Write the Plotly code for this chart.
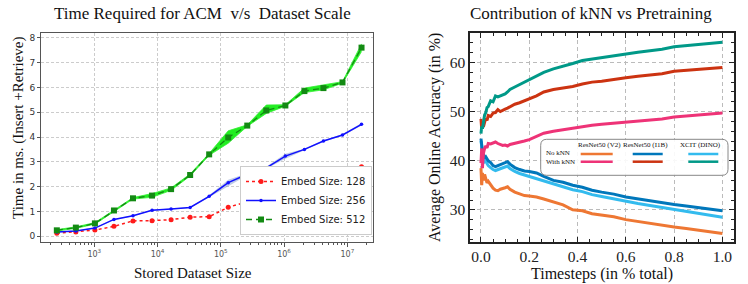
import plotly.graph_objects as go

# ---------------- Left chart data ----------------
dataset_size = [2 ** k for k in range(8, 25)]
embed128 = [0.12, 0.17, 0.25, 0.40, 0.62, 0.63, 0.67, 0.77, 0.79, 1.17, 1.39, 1.65, 1.87, 2.12, 2.20, 2.61, 2.80]
embed256 = [0.17, 0.21, 0.33, 0.68, 0.83, 1.05, 1.10, 1.16, 1.61, 2.16, 2.50, 2.76, 3.23, 3.50, 3.84, 4.08, 4.51]
embed256_lo = [0.15, 0.19, 0.31, 0.66, 0.81, 1.03, 1.08, 1.14, 1.57, 2.03, 2.46, 2.72, 3.12, 3.47, 3.81, 4.05, 4.46]
embed256_hi = [0.19, 0.23, 0.35, 0.70, 0.85, 1.07, 1.12, 1.18, 1.65, 2.28, 2.54, 2.80, 3.33, 3.53, 3.87, 4.11, 4.56]
embed512 = [0.24, 0.35, 0.52, 1.04, 1.53, 1.64, 1.90, 2.47, 3.30, 3.98, 4.46, 5.07, 5.27, 5.85, 5.97, 6.20, 7.60]
embed512_lo = [0.21, 0.32, 0.49, 1.01, 1.50, 1.57, 1.85, 2.43, 3.26, 3.75, 4.43, 4.95, 5.24, 5.79, 5.90, 6.17, 7.44]
embed512_hi = [0.27, 0.38, 0.55, 1.07, 1.56, 1.72, 1.95, 2.51, 3.34, 4.25, 4.49, 5.29, 5.30, 5.97, 6.10, 6.23, 7.75]
left_xticks = [1e3, 1e4, 1e5, 1e6, 1e7]
left_xtick_text = ["10<sup>3</sup>", "10<sup>4</sup>", "10<sup>5</sup>", "10<sup>6</sup>", "10<sup>7</sup>"]

# ---------------- Right chart data ----------------
timesteps = [0, 0.003, 0.006, 0.01, 0.015, 0.02, 0.025, 0.03, 0.04, 0.05, 0.06, 0.07, 0.08, 0.09, 0.1,
             0.11, 0.12, 0.14, 0.16, 0.18, 0.2, 0.23, 0.26, 0.3, 0.34, 0.38, 0.42, 0.46, 0.5, 0.55,
             0.6, 0.65, 0.7, 0.75, 0.8, 0.85, 0.9, 0.95, 1.0]
xcit_knn = [45.5, 47.0, 46.5, 48.3, 49.3, 49.8, 50.8, 51.0, 52.2, 52.0, 53.2, 53.0, 53.2, 53.4, 53.6,
            54.0, 54.5, 55.0, 55.5, 56.0, 56.4, 57.2, 58.0, 58.7, 59.2, 59.8, 60.4, 60.7, 61.0, 61.5,
            61.8, 62.1, 62.4, 62.7, 63.2, 63.4, 63.6, 63.9, 64.1]
i1b_knn = [48.5, 46.5, 47.8, 46.9, 47.8, 48.6, 48.2, 49.2, 49.0, 49.7, 49.8, 50.4, 50.0, 50.3, 50.5,
           50.7, 51.0, 51.5, 51.8, 52.2, 52.5, 53.2, 54.0, 54.5, 54.8, 55.1, 55.6, 56.0, 56.2, 56.6,
           56.9, 57.2, 57.5, 57.7, 58.2, 58.4, 58.6, 58.8, 59.0]
v2_knn = [39.5, 42.5, 38.5, 41.5, 42.5, 43.0, 42.6, 43.5, 43.4, 43.6, 43.8, 43.5, 43.3, 43.1, 43.2,
          43.0, 43.3, 43.5, 43.7, 44.0, 44.3, 45.0, 45.6, 46.0, 46.3, 46.6, 47.0, 47.2, 47.4, 47.6,
          47.8, 48.0, 48.2, 48.5, 48.9, 49.1, 49.3, 49.5, 49.7]
i1b_noknn = [44.5, 43.0, 42.0, 41.2, 40.5, 40.8, 40.2, 40.0, 39.6, 39.0, 38.8, 39.0, 39.2, 39.5, 39.6,
             39.8, 39.3, 38.6, 38.2, 37.9, 37.8, 37.5, 36.8, 36.0, 35.6, 35.0, 34.6, 34.0, 33.6, 33.2,
             32.6, 32.2, 31.9, 31.5, 31.1, 30.8, 30.5, 30.1, 29.8]
xcit_noknn = [44.0, 42.5, 41.0, 40.5, 39.8, 40.0, 39.4, 39.0, 38.6, 38.2, 38.0, 38.2, 38.4, 38.6, 38.8,
              38.9, 38.4, 37.8, 37.4, 37.1, 36.9, 36.5, 36.0, 35.3, 34.8, 34.1, 33.7, 33.1, 32.7, 32.2,
              31.7, 31.3, 30.9, 30.5, 30.1, 29.7, 29.3, 28.9, 28.5]
v2_noknn = [38.5, 35.0, 37.5, 36.0, 37.2, 36.0, 35.5, 35.8, 35.0, 34.4, 34.0, 33.9, 34.2, 34.3, 34.5,
            34.7, 34.2, 33.6, 33.2, 32.9, 32.8, 32.6, 32.2, 31.6, 31.0, 30.0, 29.8, 29.2, 28.9, 28.6,
            28.0, 27.6, 27.3, 26.9, 26.5, 26.2, 25.9, 25.6, 25.2]

C_ORANGE = "#EE7733"
C_MAGENTA = "#EE3377"
C_DBLUE = "#0077BB"
C_RED = "#CC3311"
C_LBLUE = "#33BBEE"
C_TEAL = "#009988"

W, H = 748, 284
def px(x):
    return x / W
def py(y):
    return 1 - y / H

fig = go.Figure()

# Left: bands
fig.add_trace(go.Scatter(x=dataset_size, y=embed256_lo, mode="lines", line=dict(width=0),
                         showlegend=False, hoverinfo="skip", xaxis="x", yaxis="y"))
fig.add_trace(go.Scatter(x=dataset_size, y=embed256_hi, mode="lines", line=dict(width=0),
                         fill="tonexty", fillcolor="rgba(110,140,200,0.45)",
                         showlegend=False, hoverinfo="skip", xaxis="x", yaxis="y"))
fig.add_trace(go.Scatter(x=dataset_size, y=embed512_lo, mode="lines", line=dict(width=0.8, color="#33ee33"),
                         showlegend=False, hoverinfo="skip", xaxis="x", yaxis="y"))
fig.add_trace(go.Scatter(x=dataset_size, y=embed512_hi, mode="lines", line=dict(width=0.8, color="#33ee33"),
                         fill="tonexty", fillcolor="#22ee22",
                         showlegend=False, hoverinfo="skip", xaxis="x", yaxis="y"))

fig.add_trace(go.Scatter(x=dataset_size, y=embed128, mode="lines+markers", name="Embed Size: 128",
                         line=dict(color="#ff1a1a", width=1.5, dash="dot"),
                         marker=dict(symbol="circle", size=5, color="#ff1a1a"),
                         xaxis="x", yaxis="y"))
fig.add_trace(go.Scatter(x=dataset_size, y=embed256, mode="lines+markers", name="Embed Size: 256",
                         line=dict(color="#1010ff", width=1.5),
                         marker=dict(symbol="circle", size=3.5, color="#1010ff"),
                         xaxis="x", yaxis="y"))
fig.add_trace(go.Scatter(x=dataset_size, y=embed512, mode="lines+markers", name="Embed Size: 512",
                         line=dict(color="#138a13", width=1.3, dash="6px,4px"),
                         marker=dict(symbol="square", size=6, color="#138a13"),
                         xaxis="x", yaxis="y"))

# Right: curves
for ys, col in [(v2_noknn, C_ORANGE), (xcit_noknn, C_LBLUE), (i1b_noknn, C_DBLUE),
                (v2_knn, C_MAGENTA), (i1b_knn, C_RED), (xcit_knn, C_TEAL)]:
    fig.add_trace(go.Scatter(x=timesteps, y=ys, mode="lines", line=dict(color=col, width=3),
                             showlegend=False, hoverinfo="skip", xaxis="x2", yaxis="y2"))

ydom = [py(242), py(33)]

fig.update_layout(
    width=W, height=H,
    margin=dict(l=0, r=0, t=0, b=0),
    paper_bgcolor="white", plot_bgcolor="white",
    showlegend=True,
    legend=dict(x=px(372), y=py(235), xanchor="right", yanchor="bottom", traceorder="normal",
                bgcolor="white", bordercolor="#cccccc", borderwidth=1,
                font=dict(family="DejaVu Sans", size=10, color="#222222"),
                tracegroupgap=0, itemwidth=30),
    xaxis=dict(domain=[px(41), px(373)], type="log", range=[2.158, 7.406],
               tickvals=left_xticks, ticktext=left_xtick_text,
               tickfont=dict(family="DejaVu Sans", size=8, color="#555555"),
               ticks="outside", ticklen=4, tickcolor="#555555",
               showline=True, linecolor="#555555", linewidth=1, mirror=True,
               showgrid=True, gridcolor="#cccccc", griddash="3px,2px", gridwidth=1,
               minor=dict(tickvals=[m * 10 ** e for e in range(2, 8) for m in range(2, 10)],
                          ticks="outside", ticklen=2, tickcolor="#555555", showgrid=False),
               zeroline=False, anchor="y"),
    yaxis=dict(domain=ydom, range=[-0.23, 8.19], dtick=1, tick0=0,
               tickfont=dict(family="DejaVu Sans", size=9, color="#333333"),
               ticks="outside", ticklen=3, tickcolor="#555555",
               showline=True, linecolor="#555555", linewidth=1, mirror=True,
               showgrid=True, gridcolor="#cccccc", griddash="3px,2px", gridwidth=1,
               zeroline=False, anchor="x"),
    xaxis2=dict(domain=[px(470), px(734)], range=[-0.0455, 1.048], dtick=0.2, tick0=0,
                tickformat=".1f",
                tickfont=dict(family="Liberation Serif", size=15.5, color="#222222"),
                ticks="inside", ticklen=5, tickcolor="#222222",
                showline=True, linecolor="#222222", linewidth=1.5, mirror="allticks",
                showgrid=True, gridcolor="#bbbbbb", griddash="4px,3px", gridwidth=1,
                minor=dict(dtick=0.05, tick0=0, ticks="inside", ticklen=3, tickcolor="#222222", showgrid=False),
                zeroline=False, anchor="y2"),
    yaxis2=dict(domain=ydom, range=[23.45, 66.0], dtick=10, tick0=0,
                tickfont=dict(family="Liberation Serif", size=15.5, color="#222222"),
                ticks="inside", ticklen=5, tickcolor="#222222",
                showline=True, linecolor="#222222", linewidth=1.5, mirror="allticks",
                showgrid=True, gridcolor="#bbbbbb", griddash="4px,3px", gridwidth=1,
                minor=dict(dtick=2, tick0=0, ticks="inside", ticklen=3, tickcolor="#222222", showgrid=False),
                zeroline=False, anchor="x2"),
)

ann = []
# Titles and axis titles
ann.append(dict(text="Time Required for ACM  v/s  Dataset Scale", x=px(203), y=py(13),
                font=dict(family="Liberation Serif", size=17, color="#111111")))
ann.append(dict(text="Contribution of kNN vs Pretraining", x=px(591), y=py(13),
                font=dict(family="Liberation Serif", size=17, color="#111111")))
ann.append(dict(text="Time in ms. (Insert +Retrieve)", x=px(18), y=py(128), textangle=-90,
                font=dict(family="Liberation Serif", size=15, color="#111111")))
ann.append(dict(text="Stored Dataset Size", x=px(193), y=py(273),
                font=dict(family="Liberation Serif", size=15, color="#111111")))
ann.append(dict(text="Average Online Accuracy (in %)", x=px(435), y=py(138), textangle=-90,
                font=dict(family="Liberation Serif", size=16, color="#111111")))
ann.append(dict(text="Timesteps (in % total)", x=px(602), y=py(273.5),
                font=dict(family="Liberation Serif", size=16, color="#111111")))

# Custom legend for right chart
lf = dict(family="Liberation Serif", size=7, color="#111111")
ann.append(dict(text="No kNN", x=px(544), y=py(153), xanchor="left", font=lf))
ann.append(dict(text="With kNN", x=px(544), y=py(161.5), xanchor="left", font=lf))
ann.append(dict(text="ResNet50 (V2)", x=px(599.5), y=py(145), font=lf))
ann.append(dict(text="ResNet50 (I1B)", x=px(645), y=py(145), font=lf))
ann.append(dict(text="XCIT (DINO)", x=px(700), y=py(145), font=lf))

for a in ann:
    a.setdefault("xref", "paper")
    a.setdefault("yref", "paper")
    a.setdefault("showarrow", False)
    a.setdefault("xanchor", "center")
    a.setdefault("yanchor", "middle")
fig.update_layout(annotations=ann)

# Rounded legend box
x0, x1, y0, y1 = px(540.7), px(728), py(175.3), py(139.3)
rx, ry = 6 / W, 6 / H
path = (f"M {x0+rx},{y0} L {x1-rx},{y0} Q {x1},{y0} {x1},{y0+ry} L {x1},{y1-ry} Q {x1},{y1} {x1-rx},{y1} "
        f"L {x0+rx},{y1} Q {x0},{y1} {x0},{y1-ry} L {x0},{y0+ry} Q {x0},{y0} {x0+rx},{y0} Z")
shapes = [dict(type="path", path=path, xref="paper", yref="paper",
               line=dict(color="#888888", width=1), fillcolor="rgba(255,255,255,0.9)", layer="above")]
for (xa, xb), c_no, c_with in [((580.7, 612.7), C_ORANGE, C_MAGENTA),
                               ((632.7, 662.7), C_DBLUE, C_RED),
                               ((688.3, 718.3), C_LBLUE, C_TEAL)]:
    shapes.append(dict(type="line", xref="paper", yref="paper", x0=px(xa), x1=px(xb), y0=py(154), y1=py(154),
                       line=dict(color=c_no, width=2.5), layer="above"))
    shapes.append(dict(type="line", xref="paper", yref="paper", x0=px(xa), x1=px(xb), y0=py(161.7), y1=py(161.7),
                       line=dict(color=c_with, width=2.5), layer="above"))
fig.update_layout(shapes=shapes)

fig.write_html("out.html", config={"displayModeBar": False},
               post_script="document.body.style.margin='0';")
